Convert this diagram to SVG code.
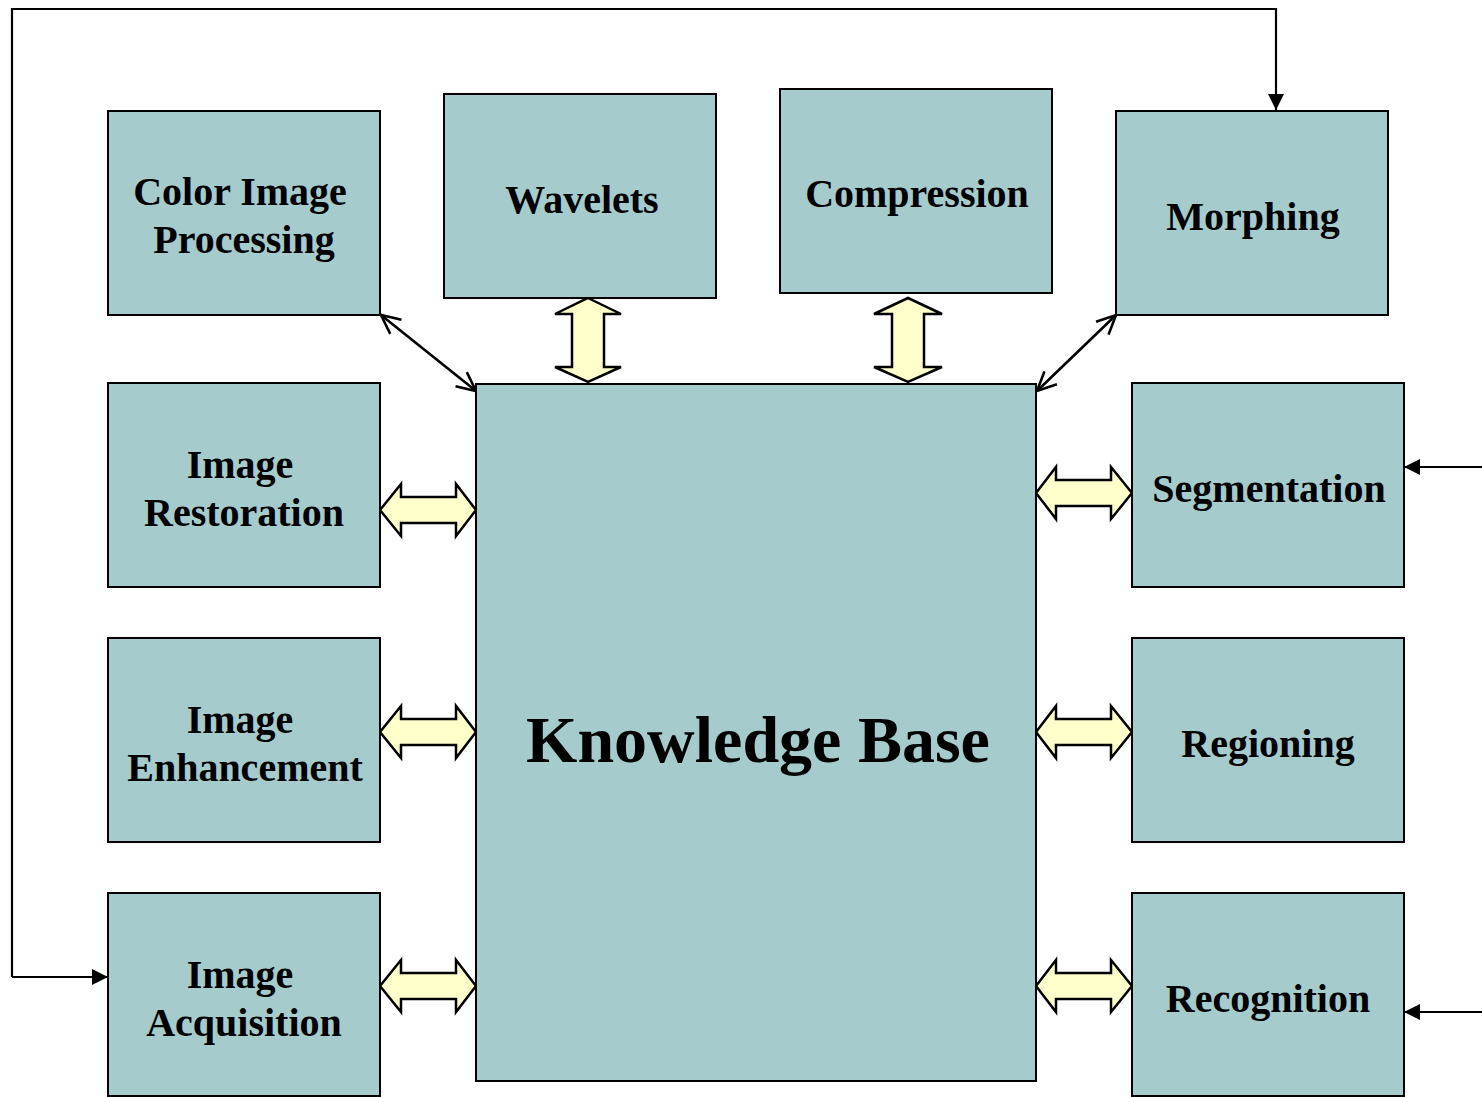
<svg xmlns="http://www.w3.org/2000/svg" width="1482" height="1097" viewBox="0 0 1482 1097">
<defs>
<style>
.box{fill:#A5CBCD;stroke:#000;stroke-width:2}
.t{font-family:"Liberation Serif","Times New Roman",serif;font-weight:bold;font-size:40px;fill:#000;text-anchor:middle}
.big{font-size:66px}
.blk{fill:#FFFFCC;stroke:#000;stroke-width:2.5;stroke-linejoin:miter}
.ln{fill:none;stroke:#000;stroke-width:2.2}
.dl{fill:none;stroke:#000;stroke-width:2.6}
</style>
<marker id="fa" markerWidth="16" markerHeight="16" refX="16" refY="8" orient="auto" markerUnits="userSpaceOnUse" viewBox="0 0 16 16">
<path d="M0,0 L16,8 L0,16 Z" fill="#000"/>
</marker>
<marker id="oa" markerWidth="24" markerHeight="24" refX="21" refY="12" orient="auto-start-reverse" markerUnits="userSpaceOnUse" viewBox="0 0 24 24">
<path d="M2,3 L21,12 L2,21" fill="none" stroke="#000" stroke-width="2.6"/>
</marker>
</defs>

<g id="connectors">
<path class="ln" d="M12,977 V9 H1276 V110" marker-end="url(#fa)"/>
<path class="ln" d="M12,977 H108" marker-end="url(#fa)"/>
<path class="ln" d="M1482,467 H1404" marker-end="url(#fa)"/>
<path class="ln" d="M1482,1012 H1404" marker-end="url(#fa)"/>
<line class="dl" x1="381" y1="315" x2="476" y2="391" marker-start="url(#oa)" marker-end="url(#oa)"/>
<line class="dl" x1="1116" y1="315" x2="1037" y2="391" marker-start="url(#oa)" marker-end="url(#oa)"/>
<path class="blk" d="M588,298 L621,314 L604,314 L604,367 L621,367 L588,382 L555,367 L572,367 L572,314 L555,314 Z"/>
<path class="blk" d="M908,298 L942,314 L924,314 L924,367 L942,367 L908,382 L874,367 L892,367 L892,314 L874,314 Z"/>
<path class="blk" d="M380,510 L401,484 L401,497 L456,497 L456,484 L476,510 L456,536 L456,523 L401,523 L401,536 Z"/>
<path class="blk" d="M380,732 L401,706 L401,719 L456,719 L456,706 L476,732 L456,758 L456,745 L401,745 L401,758 Z"/>
<path class="blk" d="M380,986 L401,960 L401,973 L456,973 L456,960 L476,986 L456,1012 L456,999 L401,999 L401,1012 Z"/>
<path class="blk" d="M1036,493 L1056,467 L1056,480 L1111,480 L1111,467 L1132,493 L1111,519 L1111,506 L1056,506 L1056,519 Z"/>
<path class="blk" d="M1036,732 L1056,706 L1056,719 L1111,719 L1111,706 L1132,732 L1111,758 L1111,745 L1056,745 L1056,758 Z"/>
<path class="blk" d="M1036,986 L1056,960 L1056,973 L1111,973 L1111,960 L1132,986 L1111,1012 L1111,999 L1056,999 L1056,1012 Z"/>
</g>

<g id="color-image-processing"><rect class="box" x="108" y="111" width="272" height="204"/><text class="t" x="240" y="205">Color Image</text><text class="t" x="244" y="253">Processing</text></g>
<g id="wavelets"><rect class="box" x="444" y="94" width="272" height="204"/><text class="t" x="582" y="213">Wavelets</text></g>
<g id="compression"><rect class="box" x="780" y="89" width="272" height="204"/><text class="t" x="917" y="207">Compression</text></g>
<g id="morphing"><rect class="box" x="1116" y="111" width="272" height="204"/><text class="t" x="1253" y="230">Morphing</text></g>
<g id="image-restoration"><rect class="box" x="108" y="383" width="272" height="204"/><text class="t" x="240" y="478">Image</text><text class="t" x="244" y="526">Restoration</text></g>
<g id="image-enhancement"><rect class="box" x="108" y="638" width="272" height="204"/><text class="t" x="240" y="733">Image</text><text class="t" x="245" y="781">Enhancement</text></g>
<g id="image-acquisition"><rect class="box" x="108" y="893" width="272" height="203"/><text class="t" x="240" y="988">Image</text><text class="t" x="244" y="1036">Acquisition</text></g>
<g id="knowledge-base"><rect class="box" x="476" y="384" width="560" height="697"/><text class="t big" x="758" y="762">Knowledge Base</text></g>
<g id="segmentation"><rect class="box" x="1132" y="383" width="272" height="204"/><text class="t" x="1269" y="502">Segmentation</text></g>
<g id="regioning"><rect class="box" x="1132" y="638" width="272" height="204"/><text class="t" x="1268" y="757">Regioning</text></g>
<g id="recognition"><rect class="box" x="1132" y="893" width="272" height="203"/><text class="t" x="1268" y="1012">Recognition</text></g>
</svg>
